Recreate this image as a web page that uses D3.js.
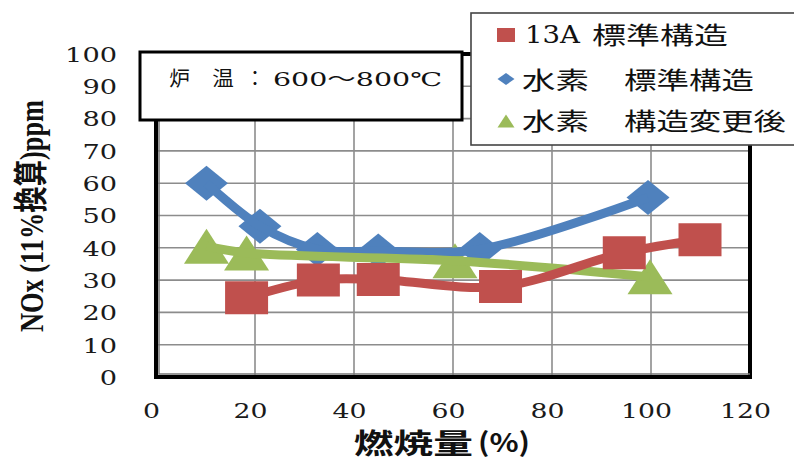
<!DOCTYPE html>
<html>
<head>
<meta charset="utf-8">
<script src="https://cdn.jsdelivr.net/npm/d3@7"></script>
<style>
  html, body { margin: 0; padding: 0; background: #fff; }
  svg { display: block; }
</style>
</head>
<body>
<div id="chart"></div>
<script>
// NOx (11% O2 basis, ppm) versus burner load (%), furnace at 600–800 °C
const load13A   = [18.3, 32.8, 44.9, 69.6, 94.6, 109.9];
const nox13A    = [24.5, 30.0, 30.2, 28.0, 38.5, 42.5];
const loadH2Std = [10.2, 21.0, 32.6, 44.9, 65.4, 99.4];
const noxH2Std  = [60.0, 46.7, 39.5, 39.0, 39.5, 55.6];
const loadH2Mod = [10.2, 18.3, 60.4, 99.8];
const noxH2Mod  = [40.5, 38.4, 36.0, 31.0];

const xTicks = [0, 20, 40, 60, 80, 100, 120];
const yTicks = [0, 10, 20, 30, 40, 50, 60, 70, 80, 90, 100];

const legendFuel   = ["13A", "水素", "水素"];
const legendStruct = ["標準構造", "標準構造", "構造変更後"];
const noteLabel = ["炉", "温", "：", "600～800℃"];
const xTitle = ["燃焼量", "(%)"];
const yTitle = "NOx (11%換算)ppm";

const colors = { c13A: "#C0504D", h2Std: "#4F81BD", h2Mod: "#9BBB59" };

const W = 794, H = 462;
const SERIF = "'DejaVu Serif', 'Liberation Serif', 'Noto Sans CJK JP', serif";
const CJK = "'Noto Sans CJK JP', 'Noto Sans', sans-serif";

const svg = d3.select("#chart").append("svg")
  .attr("width", W).attr("height", H)
  .attr("viewBox", `0 0 ${W} ${H}`);
svg.append("rect").attr("width", W).attr("height", H).attr("fill", "#fff");

const x = d3.scaleLinear().domain([0, 120]).range([156, 750]);
const y = d3.scaleLinear().domain([0, 100]).range([377, 54]);

// gridlines
const grid = svg.append("g").attr("stroke", "#8c8c8c").attr("stroke-width", 1.6);
grid.selectAll(".gx").data(xTicks.slice(1, -1)).join("line")
  .attr("x1", d => x(d)).attr("x2", d => x(d))
  .attr("y1", y(100)).attr("y2", y(0));
grid.selectAll(".gy").data(yTicks.slice(1, -1)).join("line")
  .attr("x1", x(0)).attr("x2", x(120))
  .attr("y1", d => y(d)).attr("y2", d => y(d));

// plot frame
svg.append("rect")
  .attr("x", x(0)).attr("y", y(100))
  .attr("width", x(120) - x(0)).attr("height", y(0) - y(100))
  .attr("fill", "none").attr("stroke", "#000").attr("stroke-width", 4);
svg.append("path")
  .attr("d", `M${x(0) + 3},${y(100)} V${y(0) - 3} H${x(120)}`)
  .attr("fill", "none").attr("stroke", "#777").attr("stroke-width", 1.5);

// y tick labels
const yAxis = svg.append("g").attr("transform", "translate(117,0)")
  .call(d3.axisLeft(y).tickValues(yTicks).tickSize(0).tickPadding(0));
yAxis.select(".domain").remove();
yAxis.selectAll("text")
  .attr("x", 0).attr("dy", "0.36em")
  .style("font-family", SERIF).style("font-size", "20.5px").attr("fill", "#1a1a1a")
  .attr("textLength", d => String(d).length * 17.3)
  .attr("lengthAdjust", "spacingAndGlyphs");

// x tick labels
const xAxis = svg.append("g").attr("transform", "translate(0,418)")
  .call(d3.axisBottom(x).tickValues(xTicks).tickSize(0).tickPadding(0));
xAxis.select(".domain").remove();
xAxis.selectAll("text")
  .attr("y", 0).attr("dy", 0).attr("dx", -5)
  .style("font-family", SERIF).style("font-size", "21px").attr("fill", "#1a1a1a")
  .attr("textLength", d => String(d).length * 17)
  .attr("lengthAdjust", "spacingAndGlyphs");

// text stretched to span [x0, x1]
function fitText(str, x0, x1, base, size, family, weight) {
  return svg.append("text")
    .attr("x", x0).attr("y", base)
    .style("font-family", family).style("font-size", size + "px")
    .style("font-weight", weight || "normal").attr("fill", "#111")
    .attr("textLength", x1 - x0).attr("lengthAdjust", "spacingAndGlyphs")
    .text(str);
}
// CJK run whose ink spans [x0, x1], vertically centred on yc
function fitCJK(str, x0, x1, yc, size, weight) {
  const pad = 0.04 * size;
  return fitText(str, x0 - pad, x1 + pad, yc + 0.38 * size, size, CJK, weight);
}

// markers
const shapes = {
  square: (w, h) => `M${-w / 2},${-h / 2}h${w}v${h}h${-w}Z`,
  diamond: (w, h) => `M0,${-h / 2}L${w / 2},0L0,${h / 2}L${-w / 2},0Z`,
  triangle: (w, h) => `M0,${-h / 2}L${w / 2},${h / 2}L${-w / 2},${h / 2}Z`
};
const line = d3.line().x(d => x(d[0])).y(d => y(d[1])).curve(d3.curveCatmullRom.alpha(0.5));

const dataH2Mod = d3.zip(loadH2Mod, noxH2Mod);
const dataH2Std = d3.zip(loadH2Std, noxH2Std);
const data13A = d3.zip(load13A, nox13A);

function markers(data, shape, w, h, color) {
  svg.append("g").selectAll("path").data(data).join("path")
    .attr("transform", d => `translate(${x(d[0])},${y(d[1])})`)
    .attr("d", shapes[shape](w, h)).attr("fill", color);
}
function trace(data, color) {
  svg.append("path").datum(data).attr("d", line)
    .attr("fill", "none").attr("stroke", color).attr("stroke-width", 9)
    .attr("stroke-linejoin", "round");
}

// hydrogen series: markers under their lines
markers(dataH2Mod, "triangle", 45, 35, colors.h2Mod);
markers(dataH2Std, "diamond", 43, 35, colors.h2Std);
trace(dataH2Std, colors.h2Std);
trace(dataH2Mod, colors.h2Mod);
// city gas series on top
trace(data13A, colors.c13A);
markers(data13A, "square", 43, 33, colors.c13A);

// furnace temperature note
svg.append("rect").attr("x", 140).attr("y", 52).attr("width", 322).attr("height", 68)
  .attr("fill", "#fff").attr("stroke", "#000").attr("stroke-width", 3);
fitCJK(noteLabel[0], 170, 189, 78, 20);
fitCJK(noteLabel[1], 213, 233, 78, 20);
svg.append("text").attr("x", 255).attr("y", 78 + 0.38 * 20).attr("text-anchor", "middle")
  .style("font-family", CJK).style("font-size", "20px").attr("fill", "#111").text(noteLabel[2]);
fitText(noteLabel[3], 273, 442, 86, 19, SERIF);

// legend
svg.append("rect").attr("x", 471).attr("y", 13).attr("width", 340).attr("height", 132)
  .attr("fill", "#fff").attr("stroke", "#444").attr("stroke-width", 1.6);
const legendShapes = [["square", 18, 14, colors.c13A], ["diamond", 17, 12, colors.h2Std], ["triangle", 17, 13, colors.h2Mod]];
const rowY = [35, 79, 121];
legendShapes.forEach((s, i) => {
  svg.append("path").attr("transform", `translate(506,${rowY[i]})`)
    .attr("d", shapes[s[0]](s[1], s[2])).attr("fill", s[3]);
});
fitText(legendFuel[0], 525, 580, 43, 24, SERIF);
fitCJK(legendStruct[0], 593, 727, 35, 24);
fitCJK(legendFuel[1], 523, 588, 80, 24);
fitCJK(legendStruct[1], 625, 753, 80, 24);
fitCJK(legendFuel[2], 523, 588, 121, 24);
fitCJK(legendStruct[2], 625, 785, 121, 24);

// axis titles
svg.append("text")
  .attr("transform", "translate(43,216) scale(1.4,1) rotate(-90)")
  .attr("text-anchor", "middle")
  .style("font-family", "'Liberation Serif', 'Noto Sans CJK JP', serif")
  .style("font-size", "24px").style("font-weight", "bold").attr("fill", "#111")
  .attr("textLength", 232).attr("lengthAdjust", "spacingAndGlyphs")
  .text(yTitle);
fitCJK(xTitle[0], 355, 472, 443, 28, "bold");
fitText(xTitle[1], 478, 530, 452, 26, CJK, "bold");
</script>
</body>
</html>
